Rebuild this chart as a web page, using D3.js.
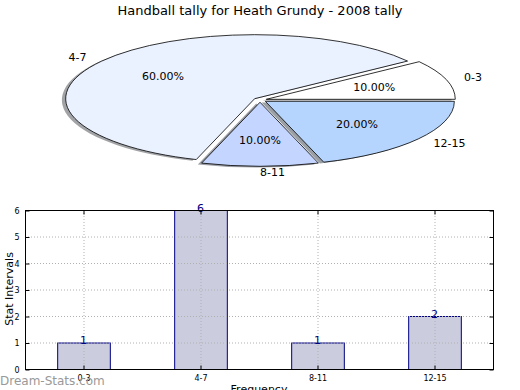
<!DOCTYPE html>
<html><head><meta charset="utf-8">
<script src="https://cdn.jsdelivr.net/npm/d3@7"></script>
<style>body{margin:0;background:#fff}svg{display:block;font-family:"DejaVu Sans",sans-serif}</style>
</head><body><svg id="c" width="520" height="390"></svg>
<script>
const title = "Handball tally for Heath Grundy - 2008 tally";
const categories = ["0-3", "4-7", "8-11", "12-15"];
const values = [1, 6, 1, 2];
const pieColors = ["#ffffff", "#eaf1ff", "#c4d6ff", "#b5d5ff"];
const yTicks = [0, 1, 2, 3, 4, 5, 6];
const xLabel = "Frequency";
const yLabel = "Stat Intervals";
const watermark = "Dream-Stats.com";

const svg = d3.select("#c");
svg.append("rect").attr("width",520).attr("height",390).attr("fill","#fff");

svg.append("text").attr("x",260).attr("y",15).attr("text-anchor","middle")
  .attr("font-size",13).attr("fill","#000").text(title);

// ---- Pie ----
const cx = 260, cy = 100, rx = 189, ry = 64, explode = 0.035;
const total = d3.sum(values);
const pie = d3.pie().sort(null).startAngle(Math.PI/2).endAngle(Math.PI/2 - 2*Math.PI);
const arcs = pie(values);
const arc = d3.arc().innerRadius(0).outerRadius(1);
const g = svg.append("g");
function midTheta(d){ const a = (d.startAngle + d.endAngle)/2; return Math.PI/2 - a; }
function origin(d){
  const th = midTheta(d);
  return [cx + explode*rx*Math.cos(th), cy - explode*ry*Math.sin(th)];
}
arcs.forEach((d,i)=>{
  const [ox,oy] = origin(d);
  const c = d3.rgb(pieColors[i]);
  g.append("path").attr("d",arc(d))
    .attr("transform",`translate(${ox-0.02*rx},${oy+0.02*ry}) scale(${rx},${ry})`)
    .attr("fill",d3.rgb(c.r*0.3,c.g*0.3,c.b*0.3)).attr("fill-opacity",0.5);
});
arcs.forEach((d,i)=>{
  const [ox,oy] = origin(d);
  g.append("path").attr("d",arc(d))
    .attr("transform",`translate(${ox},${oy}) scale(${rx},${ry})`)
    .attr("fill",pieColors[i]).attr("stroke","#000").attr("stroke-width",0.8)
    .attr("vector-effect","non-scaling-stroke");
});
arcs.forEach((d,i)=>{
  const th = midTheta(d);
  const [ox,oy] = origin(d);
  const c = Math.cos(th), s = Math.sin(th);
  g.append("text").attr("x",ox+1.1*rx*c).attr("y",oy-1.1*ry*s).attr("dy","0.35em")
    .attr("text-anchor", c < -0.01 ? "end" : "start").attr("font-size",11).text(categories[i]);
  g.append("text").attr("x",ox+0.6*rx*c).attr("y",oy-0.6*ry*s).attr("dy","0.35em")
    .attr("text-anchor","middle").attr("font-size",11)
    .text((100*values[i]/total).toFixed(2)+"%");
});

// ---- Bar chart ----
const L=25, R=493, T=210, B=369;
const x = d3.scaleBand().domain(categories).range([L,R]);
const y = d3.scaleLinear().domain([0,6]).range([B,T]);
const bw = x.bandwidth()*0.45;
const cxb = c => x(c)+x.bandwidth()/2;

svg.append("g").selectAll("rect").data(categories).join("rect")
  .attr("x",c=>cxb(c)-bw/2+0.5).attr("width",bw)
  .attr("y",(c,i)=>y(values[i])+0.5).attr("height",(c,i)=>B-y(values[i]))
  .attr("fill","#ccccdf").attr("stroke","#000080").attr("stroke-width",1);

const grid = svg.append("g").attr("stroke","#b0b0b0").attr("stroke-width",1).attr("stroke-dasharray","1,2");
yTicks.slice(1,-1).forEach(t=>grid.append("line").attr("x1",L).attr("x2",R).attr("y1",y(t)+0.5).attr("y2",y(t)+0.5));
categories.forEach(c=>grid.append("line").attr("x1",cxb(c)+0.5).attr("x2",cxb(c)+0.5).attr("y1",T).attr("y2",B));

svg.append("g").selectAll("text").data(categories).join("text")
  .attr("x",c=>cxb(c)).attr("y",(c,i)=>y(values[i])+1.5)
  .attr("text-anchor","middle").attr("font-size",11).attr("fill","#000080")
  .text((c,i)=>values[i]);

svg.append("rect").attr("x",L+0.5).attr("y",T+0.5).attr("width",R-L).attr("height",B-T)
  .attr("fill","none").attr("stroke","#000").attr("stroke-width",1);

// axes with inward ticks
const yAxis = d3.axisLeft(y).tickValues(yTicks).tickFormat(d3.format("d")).tickSize(-4).tickPadding(6);
svg.append("g").attr("transform",`translate(${L+0.5},0.5)`).call(yAxis)
  .call(a=>{a.select(".domain").remove();a.selectAll("text").attr("font-size",8).attr("font-family","DejaVu Sans");});
const yAxisR = d3.axisRight(y).tickValues(yTicks).tickSize(-4).tickFormat("");
svg.append("g").attr("transform",`translate(${R+0.5},0.5)`).call(yAxisR).call(a=>a.select(".domain").remove());
const xAxis = d3.axisBottom(x).tickSize(-4).tickPadding(6);
svg.append("g").attr("transform",`translate(0.5,${B+0.5})`).call(xAxis)
  .call(a=>{a.select(".domain").remove();a.selectAll("text").attr("font-size",8).attr("font-family","DejaVu Sans");});
const xAxisT = d3.axisTop(x).tickSize(-4).tickFormat("");
svg.append("g").attr("transform",`translate(0.5,${T+0.5})`).call(xAxisT).call(a=>a.select(".domain").remove());

svg.append("text").attr("transform","translate(13,289) rotate(-90)").attr("text-anchor","middle")
  .attr("font-size",11).text(yLabel);
svg.append("text").attr("x",259).attr("y",393).attr("text-anchor","middle").attr("font-size",11).text(xLabel);

svg.append("text").attr("x",0).attr("y",385).attr("font-size",12)
  .attr("fill","#999999").text(watermark);
</script></body></html>
